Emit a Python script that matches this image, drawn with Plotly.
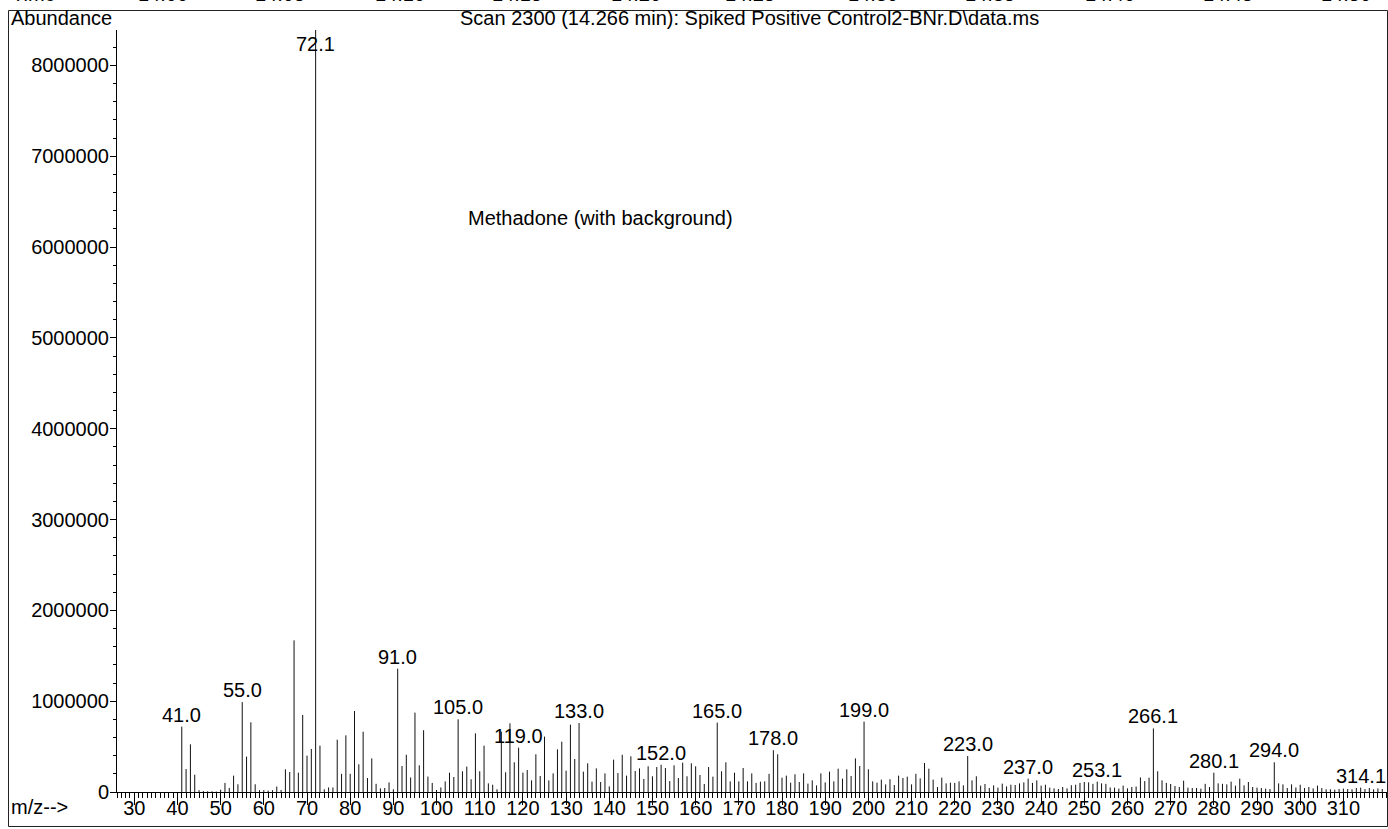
import plotly.graph_objects as go

# ---------------- data ----------------
mz = list(range(41, 320))
abundance_millions = [
    0.72, 0.253, 0.525, 0.19, 0.02, 0.01, 0.008, 0.008, 0.005, 0.025,      # 41-50
    0.10, 0.045, 0.18, 0.085, 0.99, 0.39, 0.767, 0.085, 0.02, 0.02,        # 51-60
    0.015, 0.02, 0.06, 0.022, 0.25, 0.22, 1.67, 0.213, 0.848, 0.40,        # 61-70
    0.474, 8.39, 0.51, 0.03, 0.05, 0.05, 0.576, 0.20, 0.624, 0.20,         # 71-80
    0.892, 0.305, 0.664, 0.154, 0.37, 0.09, 0.04, 0.044, 0.106, 0.03,      # 81-90
    1.358, 0.286, 0.41, 0.16, 0.874, 0.294, 0.68, 0.17, 0.10, 0.022,       # 91-100
    0.05, 0.117, 0.213, 0.165, 0.80, 0.228, 0.28, 0.14, 0.646, 0.228,      # 101-110
    0.51, 0.095, 0.08, 0.03, 0.664, 0.217, 0.756, 0.327, 0.488, 0.213,     # 111-120
    0.242, 0.128, 0.415, 0.176, 0.61, 0.128, 0.205, 0.47, 0.554, 0.235,    # 121-130
    0.742, 0.363, 0.76, 0.224, 0.316, 0.114, 0.26, 0.11, 0.205, 0.062,     # 131-140
    0.356, 0.209, 0.41, 0.18, 0.393, 0.231, 0.26, 0.143, 0.283, 0.173,     # 141-150
    0.275, 0.30, 0.264, 0.12, 0.294, 0.154, 0.323, 0.173, 0.316, 0.283,    # 151-160
    0.187, 0.088, 0.275, 0.169, 0.764, 0.228, 0.327, 0.117, 0.213, 0.117,  # 161-170
    0.264, 0.117, 0.205, 0.10, 0.114, 0.117, 0.20, 0.46, 0.415, 0.158,     # 171-180
    0.18, 0.103, 0.195, 0.11, 0.205, 0.092, 0.128, 0.073, 0.205, 0.106,    # 181-190
    0.224, 0.117, 0.257, 0.147, 0.25, 0.176, 0.37, 0.286, 0.775, 0.25,     # 191-200
    0.117, 0.103, 0.136, 0.084, 0.14, 0.077, 0.18, 0.154, 0.169, 0.084,    # 201-210
    0.20, 0.15, 0.32, 0.257, 0.136, 0.055, 0.158, 0.095, 0.103, 0.10,      # 211-220
    0.117, 0.073, 0.396, 0.128, 0.173, 0.07, 0.088, 0.044, 0.073, 0.048,   # 221-230
    0.092, 0.062, 0.08, 0.077, 0.095, 0.106, 0.147, 0.10, 0.128, 0.07,     # 231-240
    0.08, 0.048, 0.04, 0.033, 0.055, 0.04, 0.075, 0.08, 0.10, 0.11,        # 241-250
    0.106, 0.09, 0.114, 0.095, 0.09, 0.05, 0.048, 0.037, 0.07, 0.04,       # 251-260
    0.055, 0.06, 0.16, 0.12, 0.158, 0.70, 0.228, 0.128, 0.10, 0.088,       # 261-270
    0.066, 0.055, 0.125, 0.048, 0.044, 0.044, 0.037, 0.09, 0.055, 0.213,   # 271-280
    0.095, 0.09, 0.084, 0.114, 0.07, 0.147, 0.073, 0.11, 0.055, 0.048,     # 281-290
    0.044, 0.037, 0.033, 0.327, 0.095, 0.084, 0.044, 0.084, 0.05, 0.08,    # 291-300
    0.044, 0.055, 0.04, 0.07, 0.044, 0.03, 0.03, 0.026, 0.033, 0.037,      # 301-310
    0.033, 0.03, 0.044, 0.048, 0.033, 0.044, 0.03, 0.04, 0.033,            # 311-319
]
abundance = [v * 1e6 for v in abundance_millions]

peak_mz = [41, 55, 72, 91, 105, 119, 133, 152, 165, 178, 199, 223, 237, 253, 266, 280, 294, 314]
peak_text = ["41.0", "55.0", "72.1", "91.0", "105.0", "119.0", "133.0", "152.0", "165.0",
             "178.0", "199.0", "223.0", "237.0", "253.1", "266.1", "280.1", "294.0", "314.1"]

x_tick_vals = list(range(30, 320, 10))
y_tick_vals = [0, 1000000, 2000000, 3000000, 4000000, 5000000, 6000000, 7000000, 8000000]
time_labels = ["14.00", "14.05", "14.10", "14.15", "14.20", "14.25", "14.30",
               "14.35", "14.40", "14.45", "14.50"]

title_text = "Scan 2300 (14.266 min): Spiked Positive Control2-BNr.D\\data.ms"
compound_text = "Methadone (with background)"

# ---------------- layout geometry ----------------
W, H = 1388, 829
L, R, T, B = 117, 1387, 30, 792   # plot area pixel box
X_RANGE = [26.0, 320.1]
Y_MAX = 8.39e6
FONT = "Liberation Sans, Arial, Helvetica, sans-serif"
FS = 20


def px(xp):
    return (xp - L) / (R - L)


def py(yp):
    return (B - yp) / (B - T)


# stick spectrum built as one line trace
xs, ys = [], []
for m, v in zip(mz, abundance):
    xs += [m, m, None]
    ys += [0, v, None]

fig = go.Figure()
fig.add_trace(go.Scatter(x=xs, y=ys, mode="lines",
                         line=dict(color="#111111", width=1),
                         hoverinfo="skip", showlegend=False))

annotations = []
lookup = dict(zip(mz, abundance))
for m, t in zip(peak_mz, peak_text):
    v = lookup[m]
    if v >= Y_MAX * 0.95:
        annotations.append(dict(x=m, y=v, xref="x", yref="y", text=t, showarrow=False,
                                yanchor="top", xanchor="center", yshift=-1,
                                font=dict(family=FONT, size=FS, color="black")))
    else:
        annotations.append(dict(x=m, y=v, xref="x", yref="y", text=t, showarrow=False,
                                yanchor="bottom", xanchor="center", yshift=-1,
                                font=dict(family=FONT, size=FS, color="black")))

annotations += [
    dict(x=px(9), y=py(18), xref="paper", yref="paper", text="Abundance", showarrow=False,
         xanchor="left", yanchor="middle", font=dict(family=FONT, size=FS, color="black")),
    dict(x=px(749), y=py(18), xref="paper", yref="paper", text=title_text, showarrow=False,
         xanchor="center", yanchor="middle", font=dict(family=FONT, size=FS, color="black")),
    dict(x=px(466), y=py(218), xref="paper", yref="paper", text=compound_text, showarrow=False,
         xanchor="left", yanchor="middle", font=dict(family=FONT, size=FS, color="black")),
    dict(x=px(9), y=py(807), xref="paper", yref="paper", text="m/z-->", showarrow=False,
         xanchor="left", yanchor="middle", font=dict(family=FONT, size=FS, color="black")),
    dict(x=px(10), y=py(7), xref="paper", yref="paper", text="Time-->", showarrow=False,
         xanchor="left", yanchor="bottom", font=dict(family=FONT, size=FS, color="black")),
]
time_x = [163, 280, 400, 517, 636, 750, 873, 990, 1110, 1228, 1346]
for tx, tl in zip(time_x, time_labels):
    annotations.append(dict(x=px(tx), y=py(7), xref="paper", yref="paper", text=tl,
                            showarrow=False, xanchor="center", yanchor="bottom",
                            font=dict(family=FONT, size=FS, color="black")))

shapes = [
    dict(type="rect", xref="paper", yref="paper",
         x0=px(8.5), x1=px(1387.5), y0=py(826.5), y1=py(10.5),
         line=dict(color="#222222", width=1)),
]

fig.update_layout(
    width=W, height=H,
    margin=dict(l=L, r=W - R, t=T, b=H - B, pad=0, autoexpand=False),
    paper_bgcolor="white", plot_bgcolor="white",
    font=dict(family=FONT, size=FS, color="black"),
    showlegend=False,
    annotations=annotations,
    shapes=shapes,
    xaxis=dict(range=X_RANGE, tickmode="array", tickvals=x_tick_vals,
               ticktext=[str(v) for v in x_tick_vals], automargin=False,
               showgrid=False, zeroline=False, showline=True, linecolor="black", linewidth=1,
               ticks="outside", ticklen=12, tickwidth=1, tickcolor="black",
               ticklabelstandoff=-14,
               tickfont=dict(family=FONT, size=FS, color="black"),
               minor=dict(dtick=1, tick0=0, ticks="outside", ticklen=5, tickwidth=1,
                          tickcolor="black", showgrid=False)),
    yaxis=dict(range=[0, Y_MAX], tickmode="array", tickvals=y_tick_vals,
               ticktext=[str(v) for v in y_tick_vals], automargin=False,
               showgrid=False, zeroline=False, showline=True, linecolor="black", linewidth=1,
               ticks="outside", ticklen=6, tickwidth=1, tickcolor="black",
               ticklabelstandoff=-3,
               tickfont=dict(family=FONT, size=FS, color="black"),
               minor=dict(dtick=200000, tick0=0, ticks="outside", ticklen=3, tickwidth=1,
                          tickcolor="black", showgrid=False)),
)

fig.write_html("out.html", config={"displayModeBar": False},
               post_script="document.body.style.margin='0';")
